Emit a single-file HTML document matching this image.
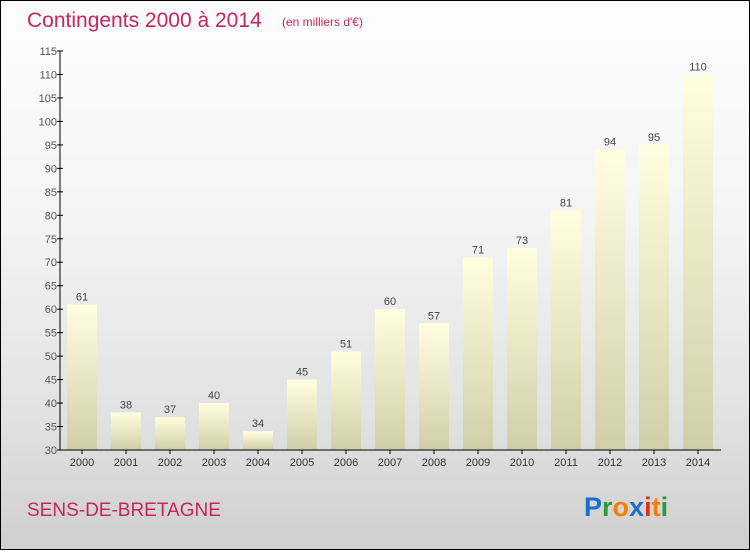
<!DOCTYPE html>
<html><head><meta charset="utf-8"><style>
html,body{margin:0;padding:0}
body{width:750px;height:550px;overflow:hidden;font-family:"Liberation Sans",sans-serif}
#wrap{position:relative;width:748px;height:548px;border:1px solid #000;background:linear-gradient(#fdfdfd,#f4f4f4 40%,#e2e2e2 75%,#cfcfcf)}
</style></head><body>
<div id="wrap">
<svg id="chart" width="748" height="548">
<defs><linearGradient id="bg" x1="0" y1="0" x2="0" y2="1"><stop offset="0" stop-color="#ffffe0"/><stop offset="1" stop-color="#cfcfa8"/></linearGradient></defs>
<text x="26" y="26" font-size="21" fill="#c8255e">Contingents 2000 à 2014</text>
<text x="281" y="25" font-size="12" fill="#c8255e">(en milliers d'€)</text>
<text x="26" y="515" font-size="19" fill="#c8255e">SENS-DE-BRETAGNE</text>
<text x="583" y="515" font-size="27" font-weight="bold"><tspan fill="#1a6fd0">P</tspan><tspan fill="#2a9a3a">r</tspan><tspan fill="#f08000">o</tspan><tspan fill="#1a6fd0">x</tspan><tspan fill="#e03010">i</tspan><tspan fill="#f08000">t</tspan><tspan fill="#2a9a3a">i</tspan></text>
<g id="plot"></g>
</svg>
</div>
<script>
const years=["2000","2001","2002","2003","2004","2005","2006","2007","2008","2009","2010","2011","2012","2013","2014"];
const values=[61,38,37,40,34,45,51,60,57,71,73,81,94,95,110];
const yTicks=[30,35,40,45,50,55,60,65,70,75,80,85,90,95,100,105,110,115];
const NS="http://www.w3.org/2000/svg";
const plotG=document.getElementById('plot');
const yMin=30,yMax=115,plotTop=50,plotBot=449,axisX=59;
function yPos(v){return plotBot-(v-yMin)/(yMax-yMin)*(plotBot-plotTop);}
function xPos(i){return 81+i*44;}
function mk(t,a){const e=document.createElementNS(NS,t);for(const k in a)e.setAttribute(k,a[k]);plotG.appendChild(e);return e;}
yTicks.forEach(v=>{
 const tk=mk('line',{x1:axisX-3,x2:axisX+3,y1:yPos(v),y2:yPos(v),stroke:'#000'});
 
 
 const t=mk('text',{x:axisX-3,y:yPos(v)+4,'font-size':11,fill:'#555','text-anchor':'end'});
 t.textContent=v;
 
 
});
values.forEach((v,i)=>{
 const r=mk('rect',{x:xPos(i)-15,y:yPos(v),width:30,height:plotBot-yPos(v),fill:'url(#bg)'});
 
 
 const l=mk('text',{x:xPos(i),y:yPos(v)-4,'font-size':11,fill:'#444','text-anchor':'middle'});
 l.textContent=v;
 
 
 const tk=mk('line',{x1:xPos(i),x2:xPos(i),y1:plotBot,y2:plotBot+4,stroke:'#000'});
 
 
 const xl=mk('text',{x:xPos(i),y:plotBot+16,'font-size':11,fill:'#333','text-anchor':'middle'});
 xl.textContent=years[i];
 
 
});
const ya=mk('line',{x1:axisX,x2:axisX,y1:plotTop,y2:plotBot,stroke:'#000'});


const xa=mk('line',{x1:axisX,x2:720,y1:plotBot,y2:plotBot,stroke:'#000'});


</script>
</body></html>
